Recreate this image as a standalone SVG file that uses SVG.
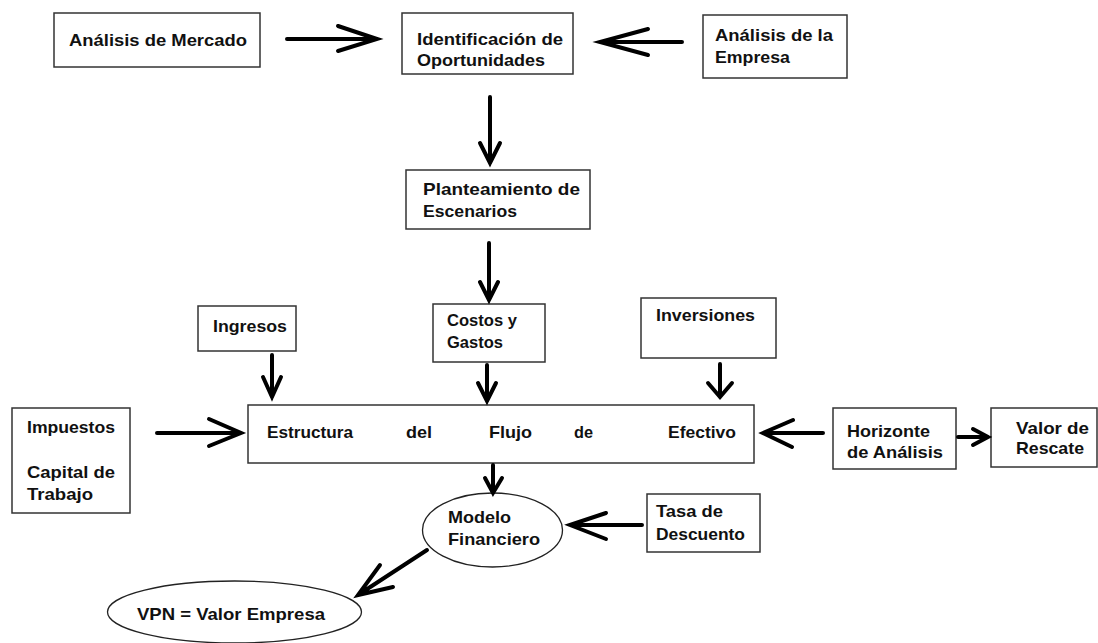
<svg xmlns="http://www.w3.org/2000/svg" width="1098" height="643" viewBox="0 0 1098 643">
<style>
.box{fill:#fff;stroke:#333;stroke-width:1.5}
.ell{fill:#fff;stroke:#222;stroke-width:1.3}
.t{font-family:"Liberation Sans",Arial,sans-serif;font-weight:bold;font-size:17px;fill:#111}
.ar{fill:none;stroke:#000;stroke-width:4;stroke-linecap:round;stroke-linejoin:miter}
</style>
<rect width="1098" height="643" fill="#fff"/>
<g id="n-mercado"><rect class="box" x="54" y="13" width="206" height="54"/>
<text class="t" x="69" y="46" textLength="178" lengthAdjust="spacingAndGlyphs">Análisis de Mercado</text></g>
<g id="n-identificacion"><rect class="box" x="402" y="13" width="171" height="61"/>
<text class="t" x="417" y="45" textLength="146" lengthAdjust="spacingAndGlyphs">Identificación de</text>
<text class="t" x="417" y="66" textLength="128" lengthAdjust="spacingAndGlyphs">Oportunidades</text></g>
<g id="n-empresa"><rect class="box" x="703" y="15" width="144" height="63"/>
<text class="t" x="715" y="41" textLength="118" lengthAdjust="spacingAndGlyphs">Análisis de la</text>
<text class="t" x="715" y="63" textLength="75" lengthAdjust="spacingAndGlyphs">Empresa</text></g>
<g id="n-planteamiento"><rect class="box" x="406" y="170" width="184" height="59"/>
<text class="t" x="423" y="195" textLength="157" lengthAdjust="spacingAndGlyphs">Planteamiento de</text>
<text class="t" x="423" y="217" textLength="94" lengthAdjust="spacingAndGlyphs">Escenarios</text></g>
<g id="n-ingresos"><rect class="box" x="198" y="306" width="98" height="45"/>
<text class="t" x="213" y="332" textLength="74" lengthAdjust="spacingAndGlyphs">Ingresos</text></g>
<g id="n-costos"><rect class="box" x="433" y="304" width="112" height="58"/>
<text class="t" x="447" y="326" textLength="70" lengthAdjust="spacingAndGlyphs">Costos y</text>
<text class="t" x="447" y="348" textLength="56" lengthAdjust="spacingAndGlyphs">Gastos</text></g>
<g id="n-inversiones"><rect class="box" x="641" y="298" width="135" height="60"/>
<text class="t" x="656" y="321" textLength="99" lengthAdjust="spacingAndGlyphs">Inversiones</text></g>
<g id="n-estructura"><rect class="box" x="248" y="405" width="506" height="58"/>
<text class="t" x="267" y="438" textLength="86" lengthAdjust="spacingAndGlyphs">Estructura</text>
<text class="t" x="406" y="438" textLength="26" lengthAdjust="spacingAndGlyphs">del</text>
<text class="t" x="489" y="438" textLength="43" lengthAdjust="spacingAndGlyphs">Flujo</text>
<text class="t" x="574" y="438" textLength="19" lengthAdjust="spacingAndGlyphs">de</text>
<text class="t" x="668" y="438" textLength="68" lengthAdjust="spacingAndGlyphs">Efectivo</text></g>
<g id="n-impuestos"><rect class="box" x="12" y="408" width="118" height="105"/>
<text class="t" x="27" y="433" textLength="88" lengthAdjust="spacingAndGlyphs">Impuestos</text>
<text class="t" x="27" y="478" textLength="88" lengthAdjust="spacingAndGlyphs">Capital de</text>
<text class="t" x="27" y="500" textLength="66" lengthAdjust="spacingAndGlyphs">Trabajo</text></g>
<g id="n-horizonte"><rect class="box" x="833" y="408" width="123" height="61"/>
<text class="t" x="847" y="437" textLength="83" lengthAdjust="spacingAndGlyphs">Horizonte</text>
<text class="t" x="847" y="458" textLength="96" lengthAdjust="spacingAndGlyphs">de Análisis</text></g>
<g id="n-valor"><rect class="box" x="991" y="408" width="106" height="59"/>
<text class="t" x="1016" y="434" textLength="73" lengthAdjust="spacingAndGlyphs">Valor de</text>
<text class="t" x="1016" y="454" textLength="68" lengthAdjust="spacingAndGlyphs">Rescate</text></g>
<g id="n-modelo"><ellipse class="ell" cx="492.5" cy="530" rx="70" ry="37"/>
<text class="t" x="448" y="523" textLength="63" lengthAdjust="spacingAndGlyphs">Modelo</text>
<text class="t" x="448" y="545" textLength="92" lengthAdjust="spacingAndGlyphs">Financiero</text></g>
<g id="n-tasa"><rect class="box" x="647" y="494" width="113" height="58"/>
<text class="t" x="656" y="517" textLength="67" lengthAdjust="spacingAndGlyphs">Tasa de</text>
<text class="t" x="656" y="540" textLength="89" lengthAdjust="spacingAndGlyphs">Descuento</text></g>
<g id="n-vpn"><ellipse class="ell" cx="234.5" cy="612" rx="127" ry="31"/>
<text class="t" x="137" y="620" textLength="188" lengthAdjust="spacingAndGlyphs">VPN = Valor Empresa</text></g>
<g id="connectors">
<path class="ar" d="M287 39H377M338 26L377 39L338 51"/>
<path class="ar" d="M682 42H600M648 29L600 42L648 55"/>
<path class="ar" d="M490 97V163M480 143L490 163L500 143"/>
<path class="ar" d="M489 243V300M480 282L489 300L498 282"/>
<path class="ar" d="M272 355V397M263 377L272 397L281 377"/>
<path class="ar" d="M487 365V401M478 383L487 401L496 383"/>
<path class="ar" d="M720 364V397M708 383L720 397L732 383"/>
<path class="ar" d="M157 433H241M209 419L241 433L209 446"/>
<path class="ar" d="M823 433H763M793 420L763 433L792 447"/>
<path class="ar" d="M958 437H988M973 429L988 437L973 445"/>
<path class="ar" d="M493 465V493M485 478L493 493L502 478"/>
<path class="ar" d="M642 525H570M606 513L570 525L606 539"/>
<path class="ar" d="M427 550L358 595M380 565L358 595L393 587"/>
</g>
</svg>
